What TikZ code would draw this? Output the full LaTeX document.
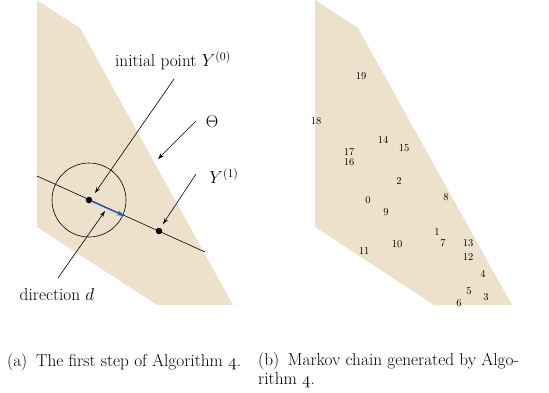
\documentclass[tikz,border=0pt]{standalone}
\usepackage{fontspec}
\usepackage{tikz}
\usetikzlibrary{arrows.meta, positioning, calc}
\definecolor{sand}{HTML}{EDE1CB}
\definecolor{stepblue}{HTML}{1F5BB5}

\begin{document}
\begin{tikzpicture}[x=1pt, y=-1pt,
  region/.style={fill=sand, draw=none},
  dot/.style={circle, fill=black, inner sep=0pt, minimum size=6.5pt},
  lbl/.style={font=\fontsize{17.28}{20}\selectfont, inner sep=1pt},
  captext/.style={font=\fontsize{17.28}{18.5}\selectfont, inner sep=0pt, anchor=base west, align=left},
  num/.style={font=\fontsize{10.5}{12}\selectfont, inner sep=0pt},
  arr/.style={-{Stealth[length=6pt, width=4pt]}, semithick}
]
\useasboundingbox (0,0) rectangle (549,392);

% (a) first step
\fill[region] (37,0) -- (80,28) -- (233,305) -- (157,305) -- (37,227) -- cycle;
\coordinate (lstart) at (37,176);
\coordinate (lend) at (205,252);
\draw[semithick] (lstart) -- (lend);
\node[dot] (y0) at (89,200) {};
\node[dot] (y1) at (159,231) {};
\draw[semithick] (y0.center) circle[radius=37];
\coordinate (dtip) at (124,215.8);
\draw[-{Stealth[length=7pt, width=5pt]}, very thick, stepblue] (y0) -- (dtip);

\node[lbl] (init) at (173,61) {initial point $Y^{(0)}$};
\node[lbl] (theta) at (212,122) {$\Theta$};
\node[lbl] (ylab) at (224,176) {$Y^{(1)}$};
\node[lbl] (dir) at (57,295) {direction $d$};

\coordinate (initfoot) at (174,79);
\coordinate (thetafoot) at (196,121);
\coordinate (thetaedge) at (158,159);
\coordinate (yfoot) at (196,174);
\coordinate (dirfoot) at (58,278);
\coordinate (dirhead) at (105,211);
\draw[arr] (initfoot) -- (95,193);
\draw[arr] (thetafoot) -- (thetaedge);
\draw[arr] (yfoot) -- (163,224);
\draw[arr] (dirfoot) -- (dirhead);

% (b) markov chain
\fill[region] (315,0) -- (358,28) -- (512,305) -- (434,305) -- (315,227) -- cycle;
\foreach \k/\px/\py in {0/368/200, 1/437/232, 2/399/181, 3/486/297, 4/483/274,
    5/469/291, 6/459/303, 7/443/243, 8/446/197, 9/386/212, 10/397/244,
    11/364/251, 12/468/257, 13/468/243, 14/383/140, 15/404/148, 16/349/162.5,
    17/349/152.5, 18/316/121, 19/361/76}
  \node[num] (p\k) at (\px,\py) {\k};

% captions
\node[captext] (capa) at (7,366) {(a)\enspace The first step of Algorithm $\mathnormal{4}$.};
\node[captext] (capb) at (258,384) {(b)\enspace Markov chain generated by Algo-\\rithm $\mathnormal{4}$.};
\end{tikzpicture}
\end{document}
